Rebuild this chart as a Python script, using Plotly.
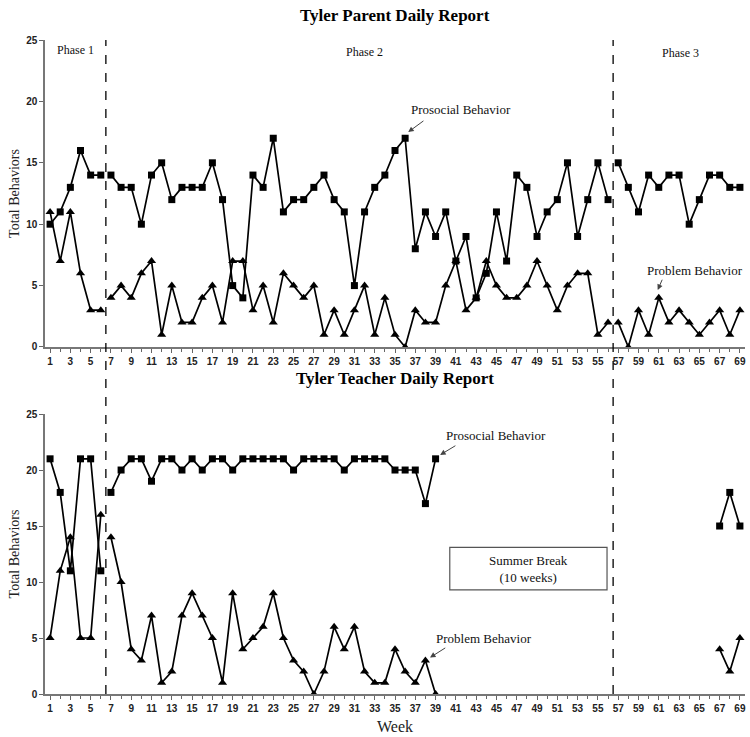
import plotly.graph_objects as go

# weeks 1-69, phase changes after week 6 and week 56
weeks = list(range(1, 70))
phase_breaks = [6.5, 56.5]

parent_prosocial = [10, 11, 13, 16, 14, 14,
                    14, 13, 13, 10, 14, 15, 12, 13, 13, 13, 15, 12, 5, 4,
                    14, 13, 17, 11, 12, 12, 13, 14, 12, 11, 5, 11, 13, 14, 16, 17, 8, 11, 9, 11,
                    7, 9, 4, 6, 11, 7, 14, 13, 9, 11, 12, 15, 9, 12, 15, 12,
                    15, 13, 11, 14, 13, 14, 14, 10, 12, 14, 14, 13, 13]
parent_problem = [11, 7, 11, 6, 3, 3,
                  4, 5, 4, 6, 7, 1, 5, 2, 2, 4, 5, 2, 7, 7,
                  3, 5, 2, 6, 5, 4, 5, 1, 3, 1, 3, 5, 1, 4, 1, 0, 3, 2, 2, 5,
                  7, 3, 4, 7, 5, 4, 4, 5, 7, 5, 3, 5, 6, 6, 1, 2,
                  2, 0, 3, 1, 4, 2, 3, 2, 1, 2, 3, 1, 3]

# teacher report: school weeks 1-39, then weeks 67-69 after summer break
teacher_weeks = list(range(1, 40))
teacher_prosocial = [21, 18, 11, 21, 21, 11,
                     18, 20, 21, 21, 19, 21, 21, 20, 21, 20, 21, 21, 20, 21,
                     21, 21, 21, 21, 20, 21, 21, 21, 21, 20, 21, 21, 21, 21, 20, 20, 20, 17, 21]
teacher_problem = [5, 11, 14, 5, 5, 16,
                   14, 10, 4, 3, 7, 1, 2, 7, 9, 7, 5, 1, 9, 4,
                   5, 6, 9, 5, 3, 2, 0, 2, 6, 4, 6, 2, 1, 1, 4, 2, 1, 3, 0]
teacher_weeks_p3 = [67, 68, 69]
teacher_prosocial_p3 = [15, 18, 15]
teacher_problem_p3 = [4, 2, 5]

SERIF = "Liberation Serif"
SANS = "Liberation Sans"

fig = go.Figure()


def seg(x, y, symbol, size, xa, ya):
    fig.add_trace(go.Scatter(
        x=x, y=y, mode="lines+markers", xaxis=xa, yaxis=ya,
        line=dict(color="black", width=1.7),
        marker=dict(symbol=symbol, size=size, color="black"),
        cliponaxis=False, showlegend=False, hoverinfo="x+y"))


# parent report, one line per phase
for a, b in [(1, 6), (7, 56), (57, 69)]:
    seg(weeks[a - 1:b], parent_prosocial[a - 1:b], "square", 7, "x", "y")
    seg(weeks[a - 1:b], parent_problem[a - 1:b], "triangle-up", 8, "x", "y")

# teacher report
for a, b in [(1, 6), (7, 39)]:
    seg(teacher_weeks[a - 1:b], teacher_prosocial[a - 1:b], "square", 7, "x2", "y2")
    seg(teacher_weeks[a - 1:b], teacher_problem[a - 1:b], "triangle-up", 8, "x2", "y2")
seg(teacher_weeks_p3, teacher_prosocial_p3, "square", 7, "x2", "y2")
seg(teacher_weeks_p3, teacher_problem_p3, "triangle-up", 8, "x2", "y2")

xax = dict(range=[0.5, 69.5], tickvals=list(range(1, 70, 2)), ticks="outside",
           ticklen=4, tickcolor="#666", showline=True, linecolor="#777", linewidth=1.5,
           minor=dict(dtick=1, ticks="outside", ticklen=3, tickcolor="#666"),
           showgrid=False, zeroline=False,
           tickfont=dict(family=SANS, size=10, color="#222", weight="bold"))
yax = dict(range=[0, 25], dtick=5, ticks="outside", ticklen=4, tickcolor="#666",
           showline=True, linecolor="#777", linewidth=1.5, showgrid=False, zeroline=False,
           tickfont=dict(family=SANS, size=10, color="#222", weight="bold"),
           title=dict(text="Total Behaviors", font=dict(family=SERIF, size=14, color="#222"),
                      standoff=3))

fig.update_layout(
    width=750, height=737,
    margin=dict(l=45, r=5, t=40, b=43),
    plot_bgcolor="white", paper_bgcolor="white",
    xaxis=dict(xax, domain=[0, 1], anchor="y"),
    yaxis=dict(yax, domain=[0.5306, 1], anchor="x"),
    xaxis2=dict(xax, domain=[0, 1], anchor="y2"),
    yaxis2=dict(yax, domain=[0, 0.4281], anchor="x2"),
)

# phase change lines through both panels
for xb in phase_breaks:
    fig.add_shape(type="line", xref="x", yref="paper", x0=xb, x1=xb, y0=0, y1=1,
                  line=dict(color="black", width=1.3, dash="dash"))

# summer break box
fig.add_shape(type="rect", xref="x2", yref="y2", x0=40.4, x1=55.9, y0=9.3, y1=13.1,
              line=dict(color="#555", width=1.2), fillcolor="white")

txt = dict(family=SERIF, size=12, color="#111")
big = dict(family=SERIF, size=13, color="#111")
notes = [
    ("x", "y", 3.5, 24.2, "Phase 1", txt),
    ("x", "y", 32.0, 24.05, "Phase 2", txt),
    ("x", "y", 63.1, 23.97, "Phase 3", txt),
    ("x", "y", 41.5, 19.3, "Prosocial Behavior", big),
    ("x", "y", 64.6, 6.27, "Problem Behavior", big),
    ("x2", "y2", 45.0, 23.1, "Prosocial Behavior", big),
    ("x2", "y2", 43.8, 5.0, "Problem Behavior", big),
    ("x2", "y2", 48.15, 11.2, "Summer Break<br>(10 weeks)", big),
]
for xr, yr, x, y, t, f in notes:
    fig.add_annotation(xref=xr, yref=yr, x=x, y=y, text=t, showarrow=False, font=f)

# arrows: tip (x, y), tail (ax, ay)
arrows = [
    ("x", "y", 36.3, 17.5, 37.95, 18.5),
    ("x", "y", 60.9, 4.65, 61.4, 5.6),
    ("x2", "y2", 39.45, 21.35, 41.1, 22.25),
    ("x2", "y2", 38.45, 3.25, 40.1, 4.2),
]
for xr, yr, x, y, ax, ay in arrows:
    fig.add_annotation(xref=xr, yref=yr, x=x, y=y, ax=ax, ay=ay, axref=xr, ayref=yr,
                       text="", showarrow=True, arrowhead=2, arrowsize=1.1,
                       arrowwidth=1, arrowcolor="#444", standoff=0)

# panel titles and x-axis title
title_font = dict(family=SERIF, size=17, color="black", weight="bold")
fig.add_annotation(xref="paper", yref="paper", x=0.5, y=1.038, text="Tyler Parent Daily Report",
                   showarrow=False, font=title_font, yanchor="middle")
fig.add_annotation(xref="paper", yref="paper", x=0.5, y=0.483, text="Tyler Teacher Daily Report",
                   showarrow=False, font=title_font, yanchor="middle")
fig.add_annotation(xref="paper", yref="paper", x=0.5, y=-0.05, text="Week",
                   showarrow=False, font=dict(family=SERIF, size=16, color="#222"),
                   yanchor="middle")

# drop the default page margin so the 750x737 figure fits the window
fig.write_html("out.html", config={"displayModeBar": False},
               post_script="document.body.style.margin='0';")
